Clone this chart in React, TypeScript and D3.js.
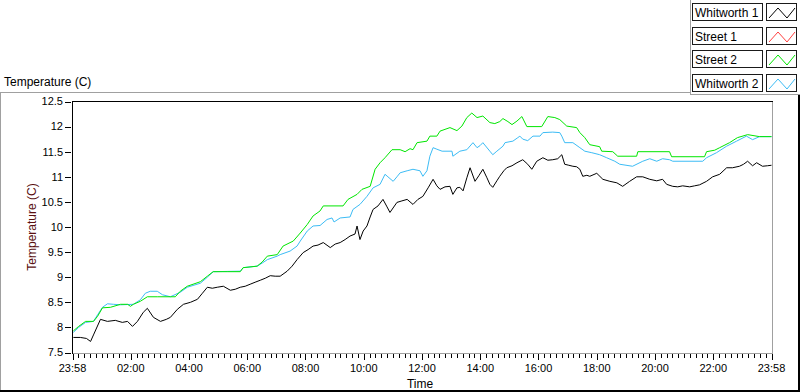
import React from 'react';
import * as d3 from 'd3';

// ---- data (hours since 23:58 start, temperature °C) ----
const X_TICK_HOURS = [0, 2, 4, 6, 8, 10, 12, 14, 16, 18, 20, 22, 24];
const X_TICK_LABELS = ['23:58', '02:00', '04:00', '06:00', '08:00', '10:00', '12:00', '14:00', '16:00', '18:00', '20:00', '22:00', '23:58'];
const Y_TICKS = [7.5, 8, 8.5, 9, 9.5, 10, 10.5, 11, 11.5, 12, 12.5];
const SERIES_NAMES = ['Whitworth 1', 'Street 1', 'Street 2', 'Whitworth 2'];
const SERIES_COLORS = ['#000000', '#ff4040', '#00e600', '#3cbcf5'];

const WHITWORTH1: [number, number][] = [
  [0.03, 7.8], [0.27, 7.8], [0.48, 7.78], [0.62, 7.72], [0.72, 7.85], [0.96, 8.16], [1.2, 8.12], [1.47, 8.14],
  [1.71, 8.1], [1.89, 8.12], [2.06, 8.02], [2.23, 8.12], [2.43, 8.3], [2.57, 8.38], [2.78, 8.2], [3.02, 8.12],
  [3.22, 8.16], [3.36, 8.2], [3.6, 8.36], [3.81, 8.46], [4.05, 8.5], [4.29, 8.56], [4.46, 8.68], [4.63, 8.8],
  [4.8, 8.78], [4.97, 8.8], [5.18, 8.82], [5.42, 8.74], [5.59, 8.76], [5.76, 8.8], [5.93, 8.82], [6.1, 8.86],
  [6.27, 8.9], [6.45, 8.94], [6.62, 8.98], [6.79, 9.03], [6.96, 9.02], [7.13, 9.02], [7.37, 9.12], [7.54, 9.22],
  [7.71, 9.35], [7.92, 9.49], [8.09, 9.55], [8.26, 9.62], [8.43, 9.64], [8.61, 9.69], [8.85, 9.59], [9.02, 9.66],
  [9.19, 9.69], [9.36, 9.75], [9.53, 9.82], [9.7, 9.86], [9.77, 10.02], [9.87, 9.75], [9.98, 9.92], [10.11, 10.02],
  [10.22, 10.2], [10.32, 10.35], [10.49, 10.42], [10.66, 10.55], [10.8, 10.4], [10.9, 10.29], [11.14, 10.49],
  [11.31, 10.52], [11.49, 10.55], [11.69, 10.45], [11.86, 10.55], [12.03, 10.61], [12.21, 10.78], [12.38, 10.95],
  [12.51, 10.82], [12.62, 10.75], [12.79, 10.8], [12.96, 10.81], [13.06, 10.65], [13.2, 10.78], [13.3, 10.79],
  [13.41, 10.72], [13.54, 10.98], [13.65, 11.18], [13.82, 10.91], [13.95, 11.02], [14.09, 11.15], [14.23, 10.98],
  [14.33, 10.85], [14.43, 10.79], [14.57, 10.92], [14.67, 11.01], [14.81, 11.12], [14.91, 11.18], [15.09, 11.22],
  [15.26, 11.28], [15.46, 11.34], [15.63, 11.25], [15.77, 11.15], [15.94, 11.31], [16.15, 11.38], [16.32, 11.33],
  [16.49, 11.34], [16.66, 11.36], [16.8, 11.44], [16.9, 11.25], [17.04, 11.23], [17.18, 11.21], [17.31, 11.2],
  [17.42, 11.15], [17.52, 11.01], [17.66, 11.03], [17.76, 11.01], [18.0, 11.07], [18.21, 10.95], [18.45, 10.91],
  [18.69, 10.88], [18.89, 10.81], [19.13, 10.91], [19.37, 11.0], [19.58, 11.0], [19.82, 10.95], [20.06, 10.92],
  [20.26, 10.95], [20.4, 10.85], [20.61, 10.81], [20.78, 10.8], [20.95, 10.82], [21.19, 10.8], [21.36, 10.82],
  [21.53, 10.84], [21.77, 10.91], [21.98, 11.0], [22.22, 11.05], [22.46, 11.18], [22.66, 11.18], [22.9, 11.21],
  [23.04, 11.25], [23.18, 11.31], [23.35, 11.22], [23.49, 11.28], [23.69, 11.21], [23.86, 11.22], [24.0, 11.23],
];

const STREET1: [number, number][] = [];

const STREET2: [number, number][] = [
  [0.03, 7.93], [0.21, 8.02], [0.45, 8.12], [0.72, 8.12], [0.86, 8.22], [1.03, 8.39], [1.3, 8.4], [1.65, 8.46],
  [1.89, 8.46], [1.99, 8.42], [2.09, 8.46], [2.33, 8.52], [2.57, 8.61], [2.91, 8.61], [3.36, 8.61], [3.53, 8.61],
  [3.7, 8.72], [3.94, 8.82], [4.39, 8.91], [4.63, 9.02], [4.83, 9.11], [5.31, 9.11], [5.76, 9.11], [5.86, 9.19],
  [6.34, 9.22], [6.51, 9.3], [6.69, 9.42], [7.03, 9.45], [7.23, 9.62], [7.58, 9.72], [7.82, 9.88], [8.06, 10.05],
  [8.26, 10.22], [8.5, 10.32], [8.61, 10.42], [9.29, 10.42], [9.46, 10.55], [9.77, 10.65], [9.94, 10.75],
  [10.22, 10.81], [10.39, 11.15], [10.56, 11.28], [10.73, 11.38], [10.97, 11.54], [11.25, 11.54], [11.42, 11.5],
  [11.59, 11.56], [11.69, 11.54], [11.83, 11.68], [12.17, 11.71], [12.27, 11.81], [12.51, 11.81], [12.62, 11.91],
  [12.96, 11.98], [13.2, 11.92], [13.37, 12.01], [13.54, 12.18], [13.71, 12.27], [13.89, 12.18], [14.09, 12.21],
  [14.33, 12.08], [14.5, 12.06], [14.67, 12.1], [14.78, 12.16], [14.95, 12.1], [15.09, 12.04], [15.26, 12.11],
  [15.43, 12.2], [15.6, 12.0], [16.11, 12.0], [16.32, 12.2], [16.56, 12.18], [16.73, 12.14], [16.97, 12.01],
  [17.31, 11.98], [17.42, 11.88], [17.59, 11.78], [17.76, 11.64], [18.1, 11.6], [18.17, 11.51], [18.55, 11.5],
  [18.72, 11.41], [19.37, 11.41], [19.41, 11.5], [20.5, 11.5], [20.57, 11.4], [21.7, 11.4], [21.77, 11.5],
  [22.05, 11.53], [22.22, 11.58], [22.56, 11.68], [22.83, 11.78], [23.18, 11.84], [23.59, 11.8], [24.0, 11.8],
];

const WHITWORTH2: [number, number][] = [
  [0.03, 7.9], [0.21, 8.0], [0.45, 8.1], [0.72, 8.12], [0.86, 8.25], [1.03, 8.4], [1.2, 8.47], [1.41, 8.46],
  [1.65, 8.45], [2.09, 8.46], [2.33, 8.55], [2.5, 8.68], [2.67, 8.72], [2.91, 8.72], [3.09, 8.65], [3.36, 8.61],
  [3.7, 8.7], [3.94, 8.8], [4.39, 8.88], [4.63, 9.0], [4.83, 9.11], [5.76, 9.12], [5.86, 9.19], [6.34, 9.22],
  [6.51, 9.28], [6.69, 9.35], [7.03, 9.42], [7.13, 9.45], [7.47, 9.52], [7.71, 9.62], [7.82, 9.72], [8.06, 9.92],
  [8.26, 10.02], [8.5, 10.03], [8.74, 10.15], [8.91, 10.18], [8.98, 10.1], [9.19, 10.18], [9.53, 10.2],
  [9.63, 10.35], [9.87, 10.45], [10.11, 10.61], [10.32, 10.78], [10.56, 10.85], [10.73, 11.05], [10.83, 11.0],
  [11.01, 10.91], [11.14, 11.0], [11.25, 11.08], [11.49, 11.12], [11.69, 11.15], [11.93, 11.12], [12.03, 11.01],
  [12.17, 11.12], [12.27, 11.41], [12.38, 11.58], [12.51, 11.55], [12.69, 11.51], [13.03, 11.51], [13.06, 11.41],
  [13.3, 11.51], [13.54, 11.54], [13.75, 11.68], [13.89, 11.58], [13.99, 11.62], [14.09, 11.68], [14.33, 11.51],
  [14.43, 11.44], [14.57, 11.51], [14.78, 11.61], [14.85, 11.68], [15.02, 11.7], [15.12, 11.71], [15.29, 11.78],
  [15.36, 11.81], [15.46, 11.75], [15.63, 11.72], [15.81, 11.81], [16.05, 11.81], [16.15, 11.88], [16.49, 11.89],
  [16.73, 11.88], [16.8, 11.81], [16.9, 11.68], [17.18, 11.68], [17.42, 11.58], [17.59, 11.51], [17.83, 11.48],
  [18.1, 11.44], [18.34, 11.38], [18.62, 11.31], [18.79, 11.25], [19.23, 11.21], [19.58, 11.31], [19.82, 11.36],
  [20.06, 11.31], [20.26, 11.36], [20.5, 11.34], [20.61, 11.31], [21.64, 11.31], [21.77, 11.38], [22.11, 11.48],
  [22.46, 11.61], [22.8, 11.71], [23.14, 11.81], [23.35, 11.74], [23.59, 11.8], [24.0, 11.8],
];

const SERIES_DATA = [WHITWORTH1, STREET1, STREET2, WHITWORTH2];
// draw order: Whitworth 1 on top like the reference
const DRAW_ORDER = [3, 2, 1, 0];

const FONT = "'Liberation Sans', Arial, sans-serif";

export default function App() {
  const W = 800;
  const H = 392;
  const plotL = 72;
  const plotR = 772;
  const plotT = 101;
  const plotB = 353;

  const x = d3.scaleLinear().domain([0, 24]).range([72.5, 771.5]);
  const y = d3.scaleLinear().domain([7.5, 12.5]).range([352.5, 101.5]);
  const line = d3
    .line<[number, number]>()
    .x((d) => x(d[0]))
    .y((d) => y(d[1]));

  const minorTicks = d3.range(0, 121).map((i) => i * 0.2).filter((h) => Math.abs(h / 2 - Math.round(h / 2)) > 1e-6);

  const legendRows = [0, 1, 2, 3].map((i) => 3 + i * 23.7);

  return (
    <svg
      width={W}
      height={H}
      style={{ position: 'absolute', left: 0, top: 0, background: '#ffffff' }}
      fontFamily={FONT}
    >
      <rect x={0} y={0} width={W} height={H} fill="#ffffff" />

      {/* Chart title */}
      <text x={4} y={86} fontSize={12} fill="#000">
        Temperature (C)
      </text>

      {/* outer frame */}
      <g shapeRendering="crispEdges">
        <line x1={0} y1={92.5} x2={690} y2={92.5} stroke="#a0a0a0" />
        <line x1={0.5} y1={92} x2={0.5} y2={391} stroke="#a0a0a0" />
        <line x1={0} y1={390.5} x2={800} y2={390.5} stroke="#000" strokeWidth={2} />
        <line x1={798.5} y1={94} x2={798.5} y2={392} stroke="#000" strokeWidth={2} />
      </g>

      {/* plot area */}
      <rect x={plotL} y={plotT} width={plotR - plotL} height={plotB - plotT} fill="#ffffff" />
      <defs>
        <clipPath id="plotClip">
          <rect x={plotL} y={plotT} width={plotR - plotL + 1} height={plotB - plotT} />
        </clipPath>
      </defs>

      <g clipPath="url(#plotClip)">
        {DRAW_ORDER.map((i) =>
          SERIES_DATA[i].length ? (
            <path
              key={i}
              d={line(SERIES_DATA[i]) || ''}
              fill="none"
              stroke={SERIES_COLORS[i]}
              strokeWidth={1}
              strokeLinejoin="round"
            />
          ) : null
        )}
      </g>

      <g shapeRendering="crispEdges">
        <line x1={plotR + 0.5} y1={plotT} x2={plotR + 0.5} y2={plotB + 1} stroke="#a0a0a0" />
        <line x1={plotL} y1={plotB + 0.5} x2={plotR + 1} y2={plotB + 0.5} stroke="#a0a0a0" />
        <line x1={plotL} y1={plotT + 0.5} x2={plotR + 1} y2={plotT + 0.5} stroke="#000" />
        <line x1={plotL + 0.5} y1={plotT} x2={plotL + 0.5} y2={plotB + 1} stroke="#000" />
      </g>

      {/* Y axis */}
      <g shapeRendering="crispEdges">
        {Y_TICKS.map((t) => (
          <line key={t} x1={65} x2={71} y1={Math.round(y(t)) + 0.5} y2={Math.round(y(t)) + 0.5} stroke="#000" />
        ))}
      </g>
      {Y_TICKS.map((t) => (
        <text key={t} x={63} y={y(t)} dy="0.35em" textAnchor="end" fontSize={11} fill="#000">
          {t}
        </text>
      ))}
      <text
        transform={`translate(32,227) rotate(-90)`}
        textAnchor="middle"
        dy="0.35em"
        fontSize={12}
        fill="#5a1010"
      >
        Temperature (C)
      </text>

      {/* X axis */}
      <g shapeRendering="crispEdges">
        {minorTicks.map((h, i) => (
          <line key={i} x1={Math.round(x(h)) + 0.5} x2={Math.round(x(h)) + 0.5} y1={354} y2={358} stroke="#000" />
        ))}
        {X_TICK_HOURS.map((h) => (
          <line key={h} x1={Math.round(x(h)) + 0.5} x2={Math.round(x(h)) + 0.5} y1={354} y2={360} stroke="#000" strokeWidth={1.5} />
        ))}
      </g>
      {X_TICK_HOURS.map((h, i) => (
        <text key={h} x={x(h)} y={372} textAnchor="middle" fontSize={11} fill="#000">
          {X_TICK_LABELS[i]}
        </text>
      ))}
      <text x={420} y={388} textAnchor="middle" fontSize={12} fill="#000">
        Time
      </text>

      {/* Legend panel */}
      <rect x={690} y={0} width={110} height={94} fill="#ffffff" />
      <g shapeRendering="crispEdges">
        <line x1={690.5} y1={0} x2={690.5} y2={95} stroke="#a0a0a0" />
        <line x1={690} y1={94.5} x2={800} y2={94.5} stroke="#a0a0a0" />
      </g>
      {SERIES_NAMES.map((name, i) => {
        const top = Math.round(legendRows[i]);
        return (
          <g key={name}>
            <rect x={692.5} y={top + 0.5} width={70} height={17} fill="#fff" stroke="#1a1a1a" shapeRendering="crispEdges" />
            <text x={695} y={top + 13.5} fontSize={12} fill="#000">
              {name}
            </text>
            <rect x={766.5} y={top + 0.5} width={30} height={17} fill="#fff" stroke="#1a1a1a" shapeRendering="crispEdges" />
            <polyline
              points={`${769},${top + 15} ${778},${top + 5} ${787},${top + 15} ${795},${top + 5}`}
              fill="none"
              stroke={SERIES_COLORS[i]}
              strokeWidth={1}
            />
          </g>
        );
      })}
    </svg>
  );
}
